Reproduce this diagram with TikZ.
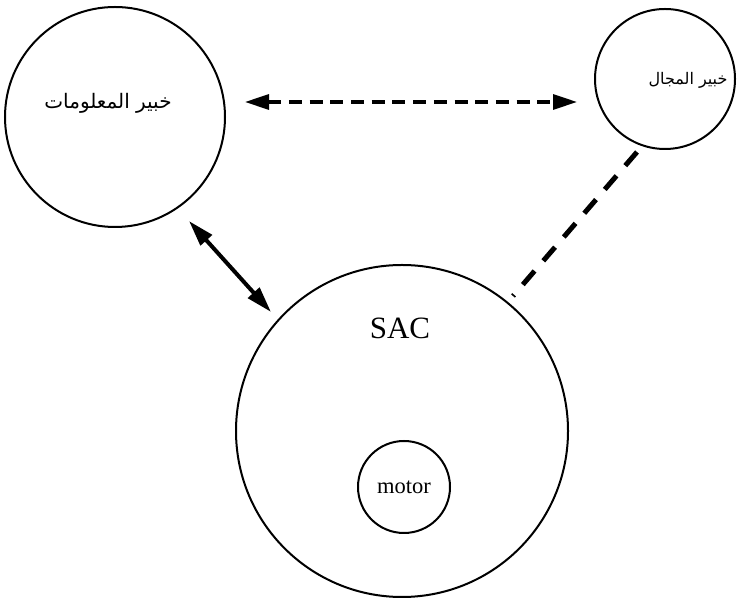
\documentclass[tikz,border=0pt]{standalone}
\usepackage{fontspec}
\setmainfont{Liberation Serif}
\newfontfamily\arabicfont[Script=Arabic]{DejaVu Sans}
\TeXXeTstate=1
\usetikzlibrary{arrows.meta}
\begin{document}
\begin{tikzpicture}[x=1pt,y=1pt,
  circ/.style={circle,draw,line width=2pt,inner sep=0pt},
  artext/.style={font=\arabicfont\fontsize{#1}{#1}\selectfont,inner sep=0pt},
  dasharrow/.style={line width=3.2pt,dash pattern=on 13pt off 7.7pt,{Triangle[length=24pt,width=15pt]}-{Triangle[length=24pt,width=15pt]}},
  solidarrow/.style={line width=4pt,{Triangle[length=26pt,width=15pt]}-{Triangle[length=26pt,width=15pt]}},
  thickdash/.style={line width=5pt,dash pattern=on 18pt off 13.4pt}]
\useasboundingbox (0,0) rectangle (738,604);
\fill[white] (0,0) rectangle (738,604);
% circles
\node[circ,minimum size=220pt] (L) at (115,487) {};
\node[circ,minimum size=140pt] (R) at (665,525) {};
\node[circ,minimum size=332pt] (S) at (402,173) {};
\node[circ,minimum size=92pt] (M) at (404,117) {};
% labels
\node[artext=20] (Lt) at (108,501) {\beginR خبير المعلومات\endR};
\node[artext=16] (Rt) at (688,524) {\beginR خبير المجال\endR};
\node[font=\fontsize{31}{31}\selectfont,inner sep=0pt] (St) at (400,276) {SAC};
\node[font=\fontsize{22.5}{22.5}\selectfont,inner sep=0pt] (Mt) at (M.center) {motor};
% connectors
\draw[dasharrow] ([shift={(130,15)}]L.center) -- ([shift={(-88,-23)}]R.center);
\draw[solidarrow] ([shift={(74,-104)}]L.center) -- ([shift={(-131,119)}]S.center);
\draw[thickdash] ([shift={(-28,-73)}]R.center) -- ([shift={(111,135)}]S.center);
\end{tikzpicture}
\end{document}
